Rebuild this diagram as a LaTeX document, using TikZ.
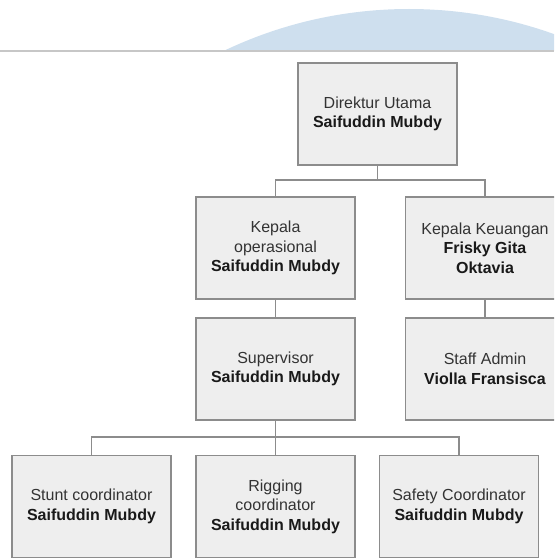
\documentclass[tikz,border=0pt]{standalone}
\usepackage{fontspec}
\setmainfont{Liberation Sans}
\definecolor{kotak}{HTML}{EEEEEE}
\definecolor{garis}{HTML}{8C8C8C}
\definecolor{biru}{HTML}{CEDFEE}
\definecolor{teks}{HTML}{333333}
\newcommand{\namabold}[1]{\textcolor{black!90}{\bfseries #1}}

\begin{document}
\begin{tikzpicture}[x=1pt, y=-1pt,
    jabatan/.style={draw=garis, fill=kotak, line width=1.2pt, minimum width=159pt, minimum height=102pt,
        inner sep=0pt, align=center, text=teks, font=\fontsize{16}{19.5}\selectfont},
    hubung/.style={draw=garis, line width=1.2pt}]
    \clip (0,0) rectangle (554,559); % 画布
    \begin{scope}
        \clip (0,0) rectangle (554,51);
        \fill[biru] (409,438.5) circle[radius=429.5pt]; % 蓝色弧
    \end{scope}
    \draw[line width=1.5pt, black!22] (0,51) -- (554,51); % 横线
    % 方框
    \node[jabatan] (dirut) at (377.5,114) {Direktur Utama\\\namabold{Saifuddin Mubdy}};
    \node[jabatan] (kaops) at (275.5,248) {Kepala\\operasional\\\namabold{Saifuddin Mubdy}};
    \node[jabatan] (kakeu) at (485,248) {Kepala Keuangan\\\namabold{Frisky Gita}\\\namabold{Oktavia}};
    \node[jabatan] (spv) at (275.5,369) {Supervisor\\\namabold{Saifuddin Mubdy}};
    \node[jabatan] (admin) at (485,369) {Staff Admin\\\namabold{Violla Fransisca}};
    \node[jabatan] (stunt) at (91.5,506.5) {Stunt coordinator\\\namabold{Saifuddin Mubdy}};
    \node[jabatan] (rigging) at (275.5,506.5) {Rigging\\coordinator\\\namabold{Saifuddin Mubdy}};
    \node[jabatan] (safety) at (459,506.5) {Safety Coordinator\\\namabold{Saifuddin Mubdy}};
    % 连线
    \coordinate (cabang1) at (377.5,180);
    \coordinate (cabang2) at (275.5,437);
    \draw[hubung] (dirut.south) -- (cabang1) -| (kaops.north);
    \draw[hubung] (cabang1) -| (kakeu.north);
    \draw[hubung] (kaops.south) -- (spv.north);
    \draw[hubung] (kakeu.south) -- (admin.north);
    \draw[hubung] (spv.south) -- (cabang2) -| (stunt.north);
    \draw[hubung] (cabang2) -| (safety.north);
    \draw[hubung] (cabang2) -- (rigging.north);
\end{tikzpicture}
\end{document}
